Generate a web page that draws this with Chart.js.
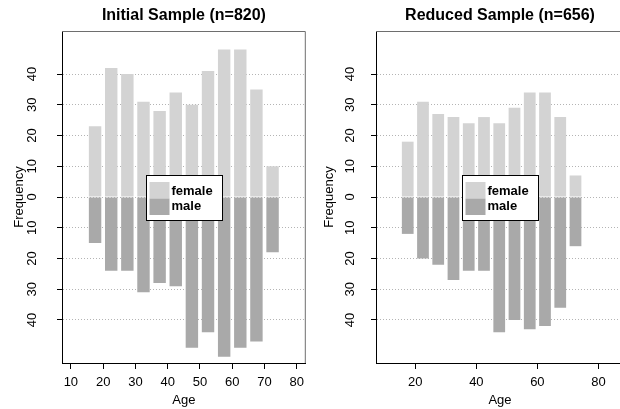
<!DOCTYPE html>
<html>
<head>
<meta charset="utf-8">
<script src="https://cdn.jsdelivr.net/npm/chart.js@4.4.1/dist/chart.umd.min.js"></script>
<style>
  html, body { margin: 0; padding: 0; background: #fff; }
  #wrap { position: relative; width: 620px; height: 409px; overflow: hidden; }
  #initialChart { position: absolute; left: 0; top: 0; }
  #reducedChart { position: absolute; left: 310px; top: 0; }
</style>
</head>
<body>
<div id="wrap">
  <canvas id="initialChart" width="310" height="409"></canvas>
  <canvas id="reducedChart" width="314" height="409"></canvas>
</div>
<script>
// Age class midpoints (5-year bins, 15-20 ... 70-75)
const ageMids = [17.5, 22.5, 27.5, 32.5, 37.5, 42.5, 47.5, 52.5, 57.5, 62.5, 67.5, 72.5];

// Initial sample (n=820)
const initialFemale = [23, 42, 40, 31, 28, 34, 30, 41, 48, 48, 35, 10];
const initialMale   = [15, 24, 24, 31, 28, 29, 49, 44, 52, 49, 47, 18];

// Reduced sample (n=656)
const reducedFemale = [18, 31, 27, 26, 24, 26, 24, 29, 34, 34, 26, 7];
const reducedMale   = [12, 20, 22, 27, 24, 24, 44, 40, 43, 42, 36, 16];

// Tick labels
const freqTicks = [-40, -30, -20, -10, 0, 10, 20, 30, 40];
const initialAgeTicks = [10, 20, 30, 40, 50, 60, 70, 80];
const reducedAgeTicks = [20, 40, 60, 80];

const FONT = '"Liberation Sans", Arial, Helvetica, sans-serif';
const FEMALE_COL = '#d3d3d3';
const MALE_COL = '#a9a9a9';

// Draws the plot box, the panel title and the legend in the middle of the plot
const panelDecor = {
  id: 'panelDecor',
  afterDraw(chart, args, opts) {
    const ctx = chart.ctx;
    const a = chart.chartArea;
    const yScale = chart.scales.y;
    ctx.save();

    // box (top and right sides)
    ctx.strokeStyle = '#6e6e6e';
    ctx.lineWidth = 1;
    ctx.beginPath();
    ctx.moveTo(a.left, a.top + 0.5);
    ctx.lineTo(a.right - 0.5, a.top + 0.5);
    ctx.lineTo(a.right - 0.5, a.bottom);
    ctx.stroke();

    // title
    ctx.fillStyle = '#000';
    ctx.font = 'bold 16px ' + FONT;
    ctx.textAlign = 'center';
    ctx.textBaseline = 'middle';
    ctx.fillText(opts.title, (a.left + a.right) / 2, 16);

    // legend
    const w = 76, h = 45;
    const cx = (a.left + a.right) / 2;
    const cy = yScale.getPixelForValue(0);
    const x0 = Math.round(cx - w / 2) + 0.5;
    const y0 = Math.round(cy - h / 2) + 0.5;
    ctx.fillStyle = '#fff';
    ctx.fillRect(x0, y0, w, h);
    ctx.strokeStyle = '#000';
    ctx.strokeRect(x0, y0, w, h);
    ctx.font = 'bold 13px ' + FONT;
    ctx.textAlign = 'left';
    chart.data.datasets.forEach((ds, i) => {
      ctx.fillStyle = ds.backgroundColor;
      ctx.fillRect(x0 + 3, y0 + 6.5 + i * 16.5, 20, 16.5);
      ctx.fillStyle = '#000';
      ctx.fillText(ds.label, x0 + 25, y0 + 15.5 + i * 15.5);
    });
    ctx.restore();
  }
};

function pyramidChart(canvasId, title, female, male, ageTicks, xMin, xMax, yWidth, labelPad) {
  return new Chart(document.getElementById(canvasId), {
    type: 'bar',
    data: {
      datasets: [{
        label: 'female',
        data: ageMids.map((a, i) => ({ x: a, y: female[i] })),
        backgroundColor: FEMALE_COL
      }, {
        label: 'male',
        data: ageMids.map((a, i) => ({ x: a, y: -male[i] })),
        backgroundColor: MALE_COL
      }]
    },
    options: {
      responsive: false,
      animation: false,
      layout: { padding: { top: 31, right: 0, left: 0, bottom: 0 } },
      datasets: {
        bar: { grouped: false, barPercentage: 0.77, categoryPercentage: 1, borderWidth: 0 }
      },
      plugins: {
        legend: { display: false },
        tooltip: { enabled: false },
        panelDecor: { title: title }
      },
      scales: {
        x: {
          type: 'linear',
          min: xMin,
          max: xMax,
          offset: false,
          afterBuildTicks: s => { s.ticks = ageTicks.map(v => ({ value: v })); },
          afterFit: s => { s.height = 46; },
          ticks: { color: '#000', padding: 6, autoSkip: false, maxRotation: 0, font: { family: FONT, size: 13 } },
          grid: { offset: false, drawOnChartArea: false, drawTicks: true, tickLength: 6, tickColor: '#000', color: '#000' },
          border: { display: true, color: '#000', width: 1 },
          title: { display: true, text: 'Age', color: '#000', font: { family: FONT, size: 13 }, padding: { top: 0, bottom: 1 } }
        },
        y: {
          min: -54,
          max: 54,
          afterBuildTicks: s => { s.ticks = freqTicks.map(v => ({ value: v })); },
          afterFit: s => { s.width = yWidth; },
          ticks: {
            color: '#000',
            autoSkip: false,
            minRotation: 90,
            maxRotation: 90,
            crossAlign: 'center',
            padding: labelPad,
            font: { family: FONT, size: 13 },
            callback: v => Math.abs(v)
          },
          grid: { color: '#b4b4b4', lineWidth: 1, drawTicks: true, tickLength: 5, tickColor: '#000' },
          border: { display: true, color: '#000', width: 1, dash: [1, 2] },
          title: { display: true, text: 'Frequency', color: '#000', font: { family: FONT, size: 13 }, padding: { top: 12, bottom: 0 } }
        }
      }
    },
    plugins: [panelDecor]
  });
}

// Left panel: initial sample
const initialChart = pyramidChart('initialChart', 'Initial Sample (n=820)',
  initialFemale, initialMale, initialAgeTicks, 7.25, 82.8, 62, 17);

// Right panel: reduced sample (plot box runs off the right edge)
const reducedChart = pyramidChart('reducedChart', 'Reduced Sample (n=656)',
  reducedFemale, reducedMale, reducedAgeTicks, 7.1, 88.4, 66, 13);
</script>
</body>
</html>
